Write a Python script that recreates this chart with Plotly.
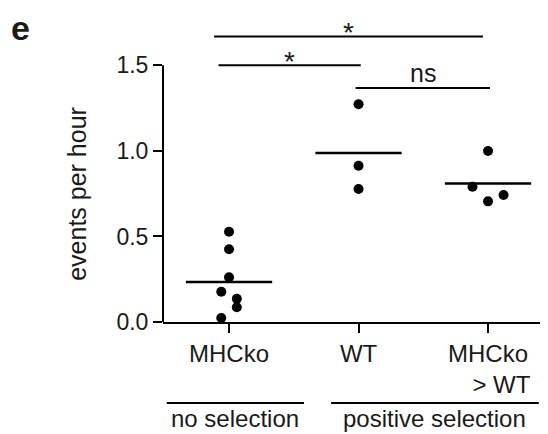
import numpy as np
import plotly.graph_objects as go

# ---- data ----
categories = ["MHCko", "WT", "MHCko > WT"]
tick_labels = ["MHCko", "WT", "MHCko<br>\u00a0\u00a0\u00a0\u00a0> WT"]
y_tick_vals = [0.0, 0.5, 1.0, 1.5]
y_tick_text = ["0.0", "0.5", "1.0", "1.5"]
y_title = "events per hour"

mhcko_vals = [0.527, 0.425, 0.261, 0.177, 0.136, 0.086, 0.023]
mhcko_jitter = [0.0, 0.0, 0.0, -0.06, 0.06, 0.06, -0.06]
wt_vals = [1.273, 0.913, 0.777]
wt_jitter = [0.0, 0.0, 0.0]
mhcko_wt_vals = [0.999, 0.790, 0.705, 0.742]
mhcko_wt_jitter = [0.0, -0.12, 0.0, 0.12]

# significance brackets
sig_x0 = [-0.116, -0.081, 0.977]
sig_x1 = [1.961, 1.017, 2.015]
sig_y = [1.668, 1.500, 1.368]
sig_labels = ["*", "*", "ns"]

# group brackets below the axis
group_labels = ["no selection", "positive selection"]
group_x0 = [-0.481, 0.788]
group_x1 = [0.579, 2.392]

groups = [mhcko_vals, wt_vals, mhcko_wt_vals]
jitters = [mhcko_jitter, wt_jitter, mhcko_wt_jitter]

TXT = "#1a1a1a"
FONT = "Liberation Sans, Arial, Helvetica, sans-serif"

fig = go.Figure()

# points
for i, (vals, jit) in enumerate(zip(groups, jitters)):
    fig.add_trace(go.Scatter(
        x=[i + j for j in jit], y=vals, mode="markers",
        marker=dict(color="black", size=10),
        cliponaxis=False, hoverinfo="skip"))

# mean lines
mx, my = [], []
for i, vals in enumerate(groups):
    m = float(np.mean(vals))
    mx += [i - 0.333, i + 0.333, None]
    my += [m, m, None]
fig.add_trace(go.Scatter(x=mx, y=my, mode="lines",
                         line=dict(color="black", width=2.5), hoverinfo="skip"))

shapes = []
annotations = []
# y axis line only from 0 to 1.5
shapes.append(dict(type="line", xref="paper", yref="y", x0=0, x1=0, y0=0, y1=1.5,
                   line=dict(color="black", width=2)))
# significance brackets
for x0, x1, y, lab in zip(sig_x0, sig_x1, sig_y, sig_labels):
    shapes.append(dict(type="line", xref="x", yref="y", x0=x0, x1=x1, y0=y, y1=y,
                       line=dict(color="black", width=2)))
    star = lab == "*"
    annotations.append(dict(x=(x0 + x1) / 2, y=y, xref="x", yref="y", text=lab,
                            showarrow=False, yanchor="middle",
                            yshift=4 if star else 15,
                            font=dict(size=28 if star else 25, color=TXT, family=FONT)))
# group brackets
for x0, x1, lab in zip(group_x0, group_x1, group_labels):
    shapes.append(dict(type="line", xref="x", yref="paper", x0=x0, x1=x1,
                       y0=-0.263, y1=-0.263, line=dict(color="black", width=2)))
    annotations.append(dict(x=(x0 + x1) / 2, y=-0.312, xref="x", yref="paper",
                            text=lab, showarrow=False, yanchor="middle",
                            font=dict(size=24, color=TXT, family=FONT)))
# y axis title, centred on the drawn 0-1.5 axis
annotations.append(dict(x=-0.223, y=0.75, xref="paper", yref="y", text=y_title,
                        textangle=-90, showarrow=False, xanchor="center",
                        yanchor="middle",
                        font=dict(size=25, color=TXT, family=FONT)))
# panel letter
annotations.append(dict(x=-0.40, y=0.953, xref="paper", yref="paper", text="<b>e</b>",
                        showarrow=False, xanchor="left", yanchor="middle",
                        font=dict(size=34, color=TXT, family=FONT)))

fig.update_layout(
    width=540, height=426,
    margin=dict(l=155, r=0, t=6, b=112),
    plot_bgcolor="white", paper_bgcolor="white",
    showlegend=False,
    font=dict(family=FONT, color=TXT),
    shapes=shapes, annotations=annotations,
    xaxis=dict(range=[-0.51, 2.463], tickvals=[0, 1, 2], ticktext=tick_labels,
               showline=True, linewidth=2, linecolor="black",
               ticks="outside", ticklen=9, tickwidth=2, tickcolor="black",
               showgrid=False, zeroline=False,
               tickfont=dict(size=24, color=TXT, family=FONT)),
    yaxis=dict(range=[0, 1.8], tickvals=y_tick_vals, ticktext=y_tick_text,
               showline=False, ticks="outside", ticklen=9, tickwidth=2,
               tickcolor="black", showgrid=False, zeroline=False,
               tickfont=dict(size=23, color=TXT, family=FONT)),
)

fig.write_html("out.html")
